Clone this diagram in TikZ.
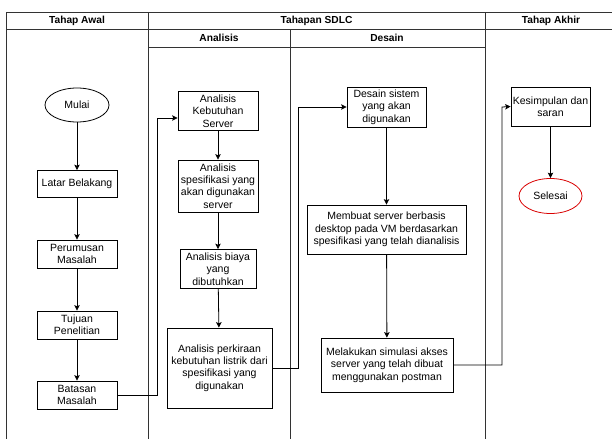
\documentclass[tikz,border=0pt]{standalone}
\usepackage{fontspec}
\setmainfont{Liberation Sans}
\usetikzlibrary{shapes.geometric,arrows.meta}
\begin{document}
\begin{tikzpicture}[x=1pt,y=-1pt,
  every node/.style={font=\fontsize{10.5}{12.4}\selectfont, inner sep=1pt, align=center},
  box/.style={draw=black, line width=0.8pt, fill=white, minimum width=#1},
  box/.default=80,
  oval/.style={draw=black, ellipse, line width=0.8pt, fill=white, minimum width=64, minimum height=34},
  head/.style={font=\bfseries\fontsize{10.2}{12}\selectfont},
  grid/.style={draw=black!80, line width=0.9pt},
  link/.style={draw=black, line width=0.8pt, -{Stealth[length=5.5pt,width=5.5pt,inset=1.2pt]}},
]
\useasboundingbox (0,0) rectangle (612,439);
% table
\draw[grid] (6,12) -- (612,12);
\draw[grid] (6,29) -- (612,29);
\draw[grid] (148,47) -- (485,47);
\draw[grid] (6,12) -- (6,439);
\draw[grid] (148,12) -- (148,439);
\draw[grid] (290,29) -- (290,439);
\draw[grid] (485,12) -- (485,439);
\node[head] (h1) at (77,20.5) {Tahap Awal};
\node[head] (h2) at (316.5,20.5) {Tahapan SDLC};
\node[head] (h3) at (551,20.5) {Tahap Akhir};
\node[head] (h4) at (219,38) {Analisis};
\node[head] (h5) at (387,38) {Desain};
% column 1
\node[oval] (mulai) at (77,105) {Mulai};
\node[box, minimum height=27] (latar) at (77,184) {Latar Belakang};
\node[box, minimum height=28] (perumusan) at (77,254) {Perumusan\\Masalah};
\node[box, minimum height=28] (tujuan) at (77,325) {Tujuan\\Penelitian};
\node[box, minimum height=28] (batasan) at (77,395) {Batasan\\Masalah};
% column 2
\node[box, minimum height=39] (kebutuhan) at (218,111) {Analisis\\Kebutuhan\\Server};
\node[box, minimum height=52] (spesifikasi) at (218,186) {Analisis\\spesifikasi yang\\akan digunakan\\server};
\node[box=76, minimum height=39] (biaya) at (218,269) {Analisis biaya\\yang\\dibutuhkan};
\node[box=105, minimum height=80] (perkiraan) at (219.5,368) {Analisis perkiraan\\kebutuhan listrik dari\\spesifikasi yang\\digunakan};
% column 3
\node[box=79, minimum height=40] (desain) at (386.5,107) {Desain sistem\\yang akan\\digunakan};
\node[box=159, minimum height=49] (membuat) at (386.5,229.5) {Membuat server berbasis\\desktop pada VM berdasarkan\\spesifikasi yang telah dianalisis};
\node[box=132, minimum height=54] (melakukan) at (387,365) {Melakukan simulasi akses\\server yang telah dibuat\\menggunakan postman};
% column 4
\node[box=79, minimum height=39] (kesimpulan) at (550.5,106.5) {Kesimpulan dan\\saran};
\node[oval, draw=red!85!black, minimum width=63, minimum height=35] (selesai) at (550.5,196) {Selesai};
% turning points
\coordinate (c1) at (157,118);
\coordinate (c2) at (298,107);
\coordinate (c3) at (502,107);
% connectors
\draw[link] (mulai) -- (latar);
\draw[link] (latar) -- (perumusan);
\draw[link] (perumusan) -- (tujuan);
\draw[link] (tujuan) -- (batasan);
\draw[link] (batasan.east) -| (c1) -- (c1 -| kebutuhan.west);
\draw[link] (kebutuhan) -- (spesifikasi);
\draw[link] (spesifikasi) -- (biaya);
\draw[link] (biaya) -- (perkiraan);
\draw[link] (perkiraan.east) -| (c2) -- (desain.west);
\draw[link] (desain) -- (membuat);
\draw[link] (membuat) -- (melakukan);
\draw[link] (melakukan.east) -| (c3) -- (kesimpulan.west);
\draw[link] (kesimpulan) -- (selesai);
\end{tikzpicture}
\end{document}
